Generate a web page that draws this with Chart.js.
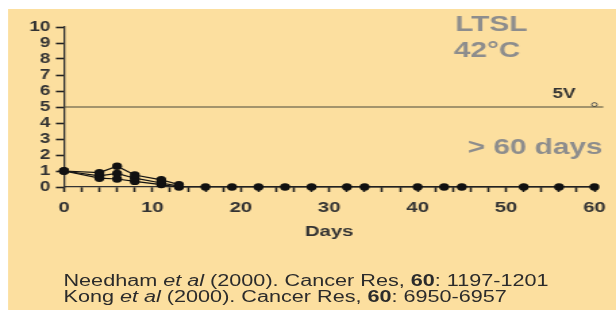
<!DOCTYPE html>
<html>
<head>
<meta charset="utf-8">
<script src="https://cdn.jsdelivr.net/npm/chart.js@4"></script>
<style>
  body { margin: 0; background: #fff; }
  /* the source picture is stretched sideways, so the whole block is too */
  .wrap { position: relative; width: 456px; height: 317px; transform: scaleX(1.3509); transform-origin: 0 0; }
  .panel { position: absolute; left: 6px; top: 9px; width: 450px; height: 301px; background: #fcdf9f; }
  canvas { position: absolute; left: 0; top: 0; }
  .refs { position: absolute; left: 47px; top: 273px; font: 16px 'Liberation Sans', Arial, sans-serif; line-height: 16px; color: #2b2b2b; white-space: nowrap; }
</style>
</head>
<body>
<div class="wrap">
  <div class="panel"></div>
  <canvas id="chart" width="456" height="317"></canvas>
  <div class="refs">
    <div>Needham <i>et al</i> (2000). Cancer Res, <b>60</b>: 1197-1201</div>
    <div>Kong <i>et al</i> (2000). Cancer Res, <b>60</b>: 6950-6957</div>
  </div>
</div>
<script>
const shortDays = [0, 4, 6, 8, 11, 13]
const seriesA = [1.0, 0.9, 1.3, 0.75, 0.45, 0.15]
const seriesB = [1.0, 0.7, 0.85, 0.55, 0.25, 0.05]
const longDays = [0, 4, 6, 8, 11, 13, 16, 19, 22, 25, 28, 32, 34, 40, 43, 45, 52, 56, 60]
const seriesC = [1.0, 0.55, 0.5, 0.35, 0.15, 0, 0, 0, 0, 0, 0, 0, 0, 0, 0, 0, 0, 0, 0]
const limitDays = [0, 61]
const limitValues = [5, 5]
const markerDays = [60]
const markerValues = [5.15]

const beige = '#fcdf9f'
const ink = '#333333'
const grey = '#8d8d8d'

function toPoints(xs, ys) {
    const pts = []
    for (let i = 0; i < xs.length; i++) {
        pts.push({x: xs[i], y: ys[i]})
    }
    return pts
}

function dotSeries(xs, ys) {
    return {
        data: toPoints(xs, ys),
        borderColor: '#111',
        borderWidth: 1.2,
        backgroundColor: '#111',
        pointRadius: 3.7,
        pointBorderWidth: 0,
        clip: false
    }
}

const labels = {
    id: 'labels',
    afterDraw(chart) {
        const ctx = chart.ctx
        ctx.save()
        ctx.textBaseline = 'middle'
        ctx.fillStyle = grey
        ctx.font = 'bold 22px "Liberation Sans", Arial, sans-serif'
        ctx.textAlign = 'left'
        ctx.fillText('LTSL', 337, 25)
        ctx.fillText('42°C', 336, 51)
        ctx.textAlign = 'right'
        ctx.fillText('> 60 days', 446, 148)
        ctx.fillStyle = ink
        ctx.font = 'bold 14px "Liberation Sans", Arial, sans-serif'
        ctx.textAlign = 'left'
        ctx.fillText('5V', 409, 94)
        ctx.restore()
    }
}

const tickFont = {family: '"Liberation Sans", Arial, sans-serif', size: 15, weight: 'bold'}

new Chart(document.getElementById('chart'), {
    type: 'line',
    data: {
        datasets: [
            dotSeries(shortDays, seriesA),
            dotSeries(shortDays, seriesB),
            dotSeries(longDays, seriesC),
            {
                data: toPoints(limitDays, limitValues),
                borderColor: '#4a4a3a',
                borderWidth: 1.2,
                pointRadius: 0,
                clip: false
            },
            {
                data: toPoints(markerDays, markerValues),
                showLine: false,
                borderColor: '#555',
                backgroundColor: beige,
                borderWidth: 1,
                pointRadius: 2,
                clip: false
            }
        ]
    },
    options: {
        responsive: false,
        animation: false,
        devicePixelRatio: 1,
        layout: {padding: {left: 0, top: 27, right: 16, bottom: 76}},
        plugins: {legend: {display: false}, tooltip: {enabled: false}},
        scales: {
            x: {
                type: 'linear',
                min: 0,
                max: 60,
                afterFit(scale) { scale.height = 54 },
                border: {color: ink, width: 1.3},
                grid: {drawOnChartArea: false, tickLength: 5, tickColor: '#222', tickWidth: 1.6},
                ticks: {
                    stepSize: 2,
                    autoSkip: false,
                    maxRotation: 0,
                    padding: 7,
                    color: ink,
                    font: tickFont,
                    callback: v => (v % 10 === 0 ? v : '')
                },
                title: {
                    display: true,
                    text: 'Days',
                    color: ink,
                    padding: 0,
                    font: tickFont
                }
            },
            y: {
                min: 0,
                max: 10,
                afterFit(scale) { scale.width = 47.4 },
                border: {color: ink, width: 1.3},
                grid: {drawOnChartArea: false, tickLength: 6, tickColor: '#222', tickWidth: 1.6},
                ticks: {
                    stepSize: 1,
                    autoSkip: false,
                    padding: 4,
                    color: ink,
                    font: {family: '"Liberation Sans", Arial, sans-serif', size: 14, weight: 'bold'}
                }
            }
        }
    },
    plugins: [labels]
})
</script>
</body>
</html>
